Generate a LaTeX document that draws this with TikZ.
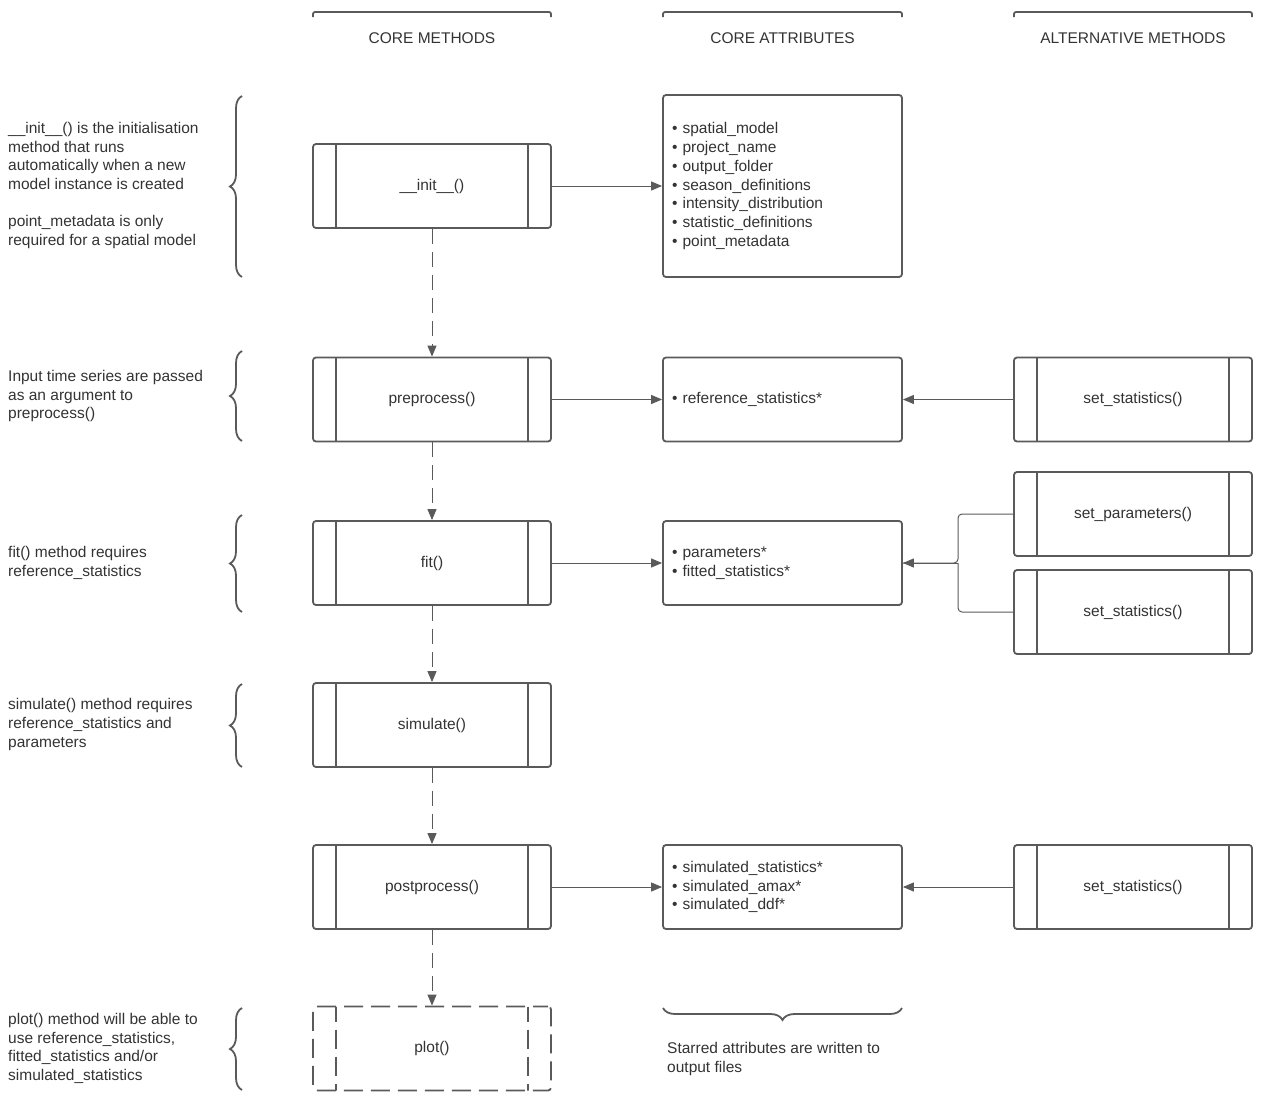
\documentclass[tikz,border=0pt]{standalone}
\usepackage{fontspec}
\setmainfont{Liberation Sans}
\usetikzlibrary{arrows.meta,decorations.pathreplacing}
\definecolor{lc}{HTML}{5A5A5A}
\definecolor{tc}{HTML}{333333}
\begin{document}
\begin{tikzpicture}[x=1pt,y=-1pt,
  font=\fontsize{15.5}{18.7}\selectfont, text=tc,
  box/.style={draw=lc, line width=1.8pt, rounded corners=3pt, minimum width=238pt, minimum height=84pt, inner sep=0pt},
  method/.style={box, path picture={
      \draw[lc, line width=1.8pt] ([xshift=23pt]path picture bounding box.north west) -- ([xshift=23pt]path picture bounding box.south west);
      \draw[lc, line width=1.8pt] ([xshift=-23pt]path picture bounding box.north east) -- ([xshift=-23pt]path picture bounding box.south east);}},
  dmethod/.style={box, dash pattern=on 19pt off 8pt, dash phase=4pt, path picture={
      \draw[lc, line width=1.8pt, dash pattern=on 19pt off 8pt, dash phase=4pt] ([xshift=23pt]path picture bounding box.north west) -- ([xshift=23pt]path picture bounding box.south west);
      \draw[lc, line width=1.8pt, dash pattern=on 19pt off 8pt, dash phase=4pt] ([xshift=-23pt]path picture bounding box.north east) -- ([xshift=-23pt]path picture bounding box.south east);}},
  attr/.style={box, minimum width=239pt, text width=221pt, inner xsep=9pt, inner ysep=0pt, align=left},
  note/.style={anchor=west, align=left, inner sep=0pt},
  hdr/.style={inner sep=0pt},
  conn/.style={draw=lc, line width=1pt, -{Triangle[length=11pt,width=9pt]}},
  flow/.style={conn, dash pattern=on 15pt off 8pt},
  bracestyle/.style={draw=lc, line width=1.8pt, decorate, decoration={brace, amplitude=12pt}},
  bracket/.style={draw=lc, line width=1.8pt, rounded corners=2pt}
]
\useasboundingbox (0,0) rectangle (1262,1103);

% headers
\draw[bracket] (313,17) -- (313,12) -- (551,12) -- (551,17);
\draw[bracket] (663,17) -- (663,12) -- (902,12) -- (902,17);
\draw[bracket] (1014,17) -- (1014,12) -- (1252,12) -- (1252,17);
\node[hdr] (h1) at (432,38.5) {CORE METHODS};
\node[hdr] (h2) at (782.5,38.5) {CORE ATTRIBUTES};
\node[hdr] (h3) at (1133,38.5) {ALTERNATIVE METHODS};

% core methods
\node[method] (init) at (432,186) {\_\_init\_\_()};
\node[method] (pre) at (432,399.5) {preprocess()};
\node[method] (fit) at (432,563) {fit()};
\node[method] (sim) at (432,725) {simulate()};
\node[method] (post) at (432,887) {postprocess()};
\node[dmethod] (plot) at (432,1048.5) {plot()};

% attributes
\node[attr, minimum height=182pt] (a1) at (782.5,186) {%
  • spatial\_model\\ • project\_name\\ • output\_folder\\ • season\_definitions\\ • intensity\_distribution\\ • statistic\_definitions\\ • point\_metadata};
\node[attr] (a2) at (782.5,399.5) {• reference\_statistics*};
\node[attr] (a3) at (782.5,563) {• parameters*\\ • fitted\_statistics*};
\node[attr] (a4) at (782.5,887) {• simulated\_statistics*\\ • simulated\_amax*\\ • simulated\_ddf*};

% alternative methods
\node[method] (s1) at (1133,399.5) {set\_statistics()};
\node[method] (sp) at (1133,514) {set\_parameters()};
\node[method] (s2) at (1133,612) {set\_statistics()};
\node[method] (s3) at (1133,887) {set\_statistics()};

% flow arrows
\draw[flow] (init) -- (pre);
\draw[flow] (pre) -- (fit);
\draw[flow] (fit) -- (sim);
\draw[flow] (sim) -- (post);
\draw[flow] (post) -- (plot);

% attribute arrows
\draw[conn] (init) -- (a1);
\draw[conn] (pre) -- (a2);
\draw[conn] (s1) -- (a2);
\draw[conn] (fit) -- (a3);
\draw[conn] (post) -- (a4);
\draw[conn] (s3) -- (a4);
\coordinate (j) at (958,563);
\draw[draw=lc, line width=1pt, rounded corners=4pt] (sp.west) -| (j) -- (a3.east);
\draw[draw=lc, line width=1pt, rounded corners=4pt] (s2.west) -| (j);
\draw[conn] (j) -- (a3.east);

% braces
\draw[bracestyle] (242,277) -- (242,96);
\draw[bracestyle] (242,441) -- (242,351);
\draw[bracestyle] (242,612) -- (242,515);
\draw[bracestyle] (242,767) -- (242,684);
\draw[bracestyle] (242,1090) -- (242,1008);
\draw[bracestyle] (902,1008) -- (663,1008);

% notes
\node[note] (n1) at (8,185.5) {\_\_init\_\_() is the initialisation\\ method that runs\\ automatically when a new\\ model instance is created\\[18.7pt] point\_metadata is only\\ required for a spatial model};
\node[note] (n2) at (8,396) {Input time series are passed\\ as an argument to\\ preprocess()};
\node[note] (n3) at (8,563) {fit() method requires\\ reference\_statistics};
\node[note] (n4) at (8,724.5) {simulate() method requires\\ reference\_statistics and\\ parameters};
\node[note] (n5) at (8,1048.5) {plot() method will be able to\\ use reference\_statistics,\\ fitted\_statistics and/or\\ simulated\_statistics};
\node[note] (n6) at (667,1059) {Starred attributes are written to\\ output files};
\end{tikzpicture}
\end{document}
